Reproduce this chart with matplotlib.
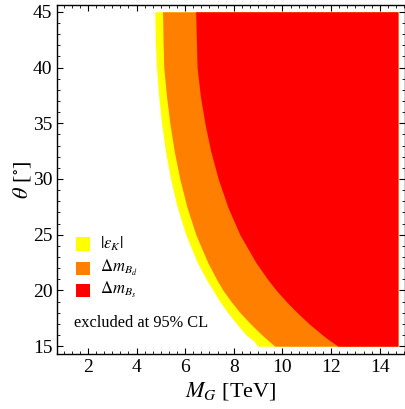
import matplotlib
matplotlib.use("Agg")
import matplotlib.pyplot as plt
from matplotlib.patches import Rectangle
from matplotlib.ticker import MultipleLocator

plt.rcParams["font.family"] = ["Liberation Serif", "DejaVu Serif"]
plt.rcParams["mathtext.fontset"] = "stix"

# boundaries of the excluded regions
theta = [15, 15.5, 16, 17, 18, 19, 20, 21, 22.5, 25, 27.5, 30, 32.5, 35, 37.5, 40, 42.5, 45]
epsK_left = [9.0, 8.80, 8.51, 8.12, 7.75, 7.43, 7.15, 6.87, 6.50, 6.03, 5.67, 5.40,
             5.19, 5.03, 4.91, 4.82, 4.77, 4.75]
mBd_left = [9.69, 9.42, 9.16, 8.69, 8.26, 7.89, 7.56, 7.29, 6.93, 6.44, 6.07, 5.78,
            5.55, 5.37, 5.23, 5.12, 5.09, 5.07]
mBs_left = [12.29, 11.95, 11.65, 11.10, 10.61, 10.16, 9.75, 9.39, 8.91, 8.25, 7.75, 7.36,
            7.05, 6.81, 6.62, 6.49, 6.46, 6.43]
x_end = 14.75

labels = [r"$|\epsilon_K|$", r"$\Delta m_{B_d}$", r"$\Delta m_{B_s}$"]
colors = ["#ffff00", "#ff8000", "#ff0000"]

fig = plt.figure(figsize=(4.06, 4.09), dpi=100)
ax = fig.add_axes([0.141, 0.1345, 0.856, 0.853])

for left, c in zip([epsK_left, mBd_left, mBs_left], colors):
    ax.fill_betweenx(theta, left, x_end, color=c, lw=0)

ax.set_xlim(0.74, 15.03)
ax.set_ylim(14.3, 45.6)
ax.xaxis.set_major_locator(MultipleLocator(2))
ax.xaxis.set_minor_locator(MultipleLocator(1 / 3))
ax.yaxis.set_major_locator(MultipleLocator(5))
ax.yaxis.set_minor_locator(MultipleLocator(1))
ax.tick_params(which="both", direction="in", top=True, right=True, labelsize=14)
ax.tick_params(which="major", length=4.5, width=0.8)
ax.tick_params(which="minor", length=2.5, width=0.6)
for s in ax.spines.values():
    s.set_linewidth(1.0)

ax.set_xlabel(r"$M_G$ [TeV]", fontsize=16, labelpad=3)
ax.set_ylabel(r"$\theta$ [$^{\circ}$]", fontsize=16, labelpad=0)

# legend
ys = [0.315, 0.246, 0.183]
for y, c, lab in zip(ys, colors, labels):
    ax.add_patch(Rectangle((0.055, y - 0.019), 0.038, 0.038, transform=ax.transAxes,
                           color=c, lw=0))
    ax.text(0.123, y, lab, transform=ax.transAxes, fontsize=12, va="center")
ax.text(0.048, 0.089, "excluded at 95% CL", transform=ax.transAxes, fontsize=11.8, va="center")

fig.savefig("out.png", dpi=100)
